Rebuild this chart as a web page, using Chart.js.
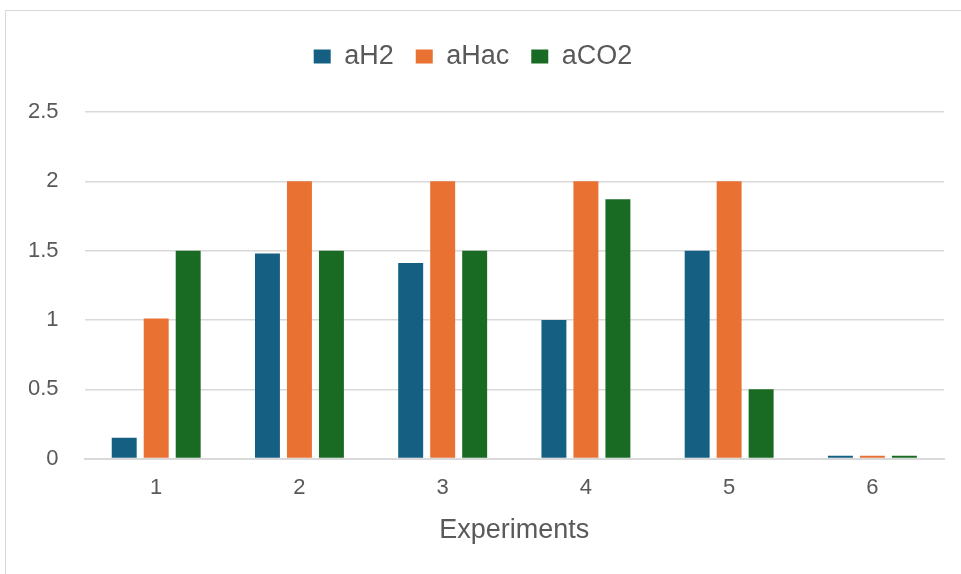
<!DOCTYPE html>
<html>
<head>
<meta charset="utf-8">
<script src="https://cdn.jsdelivr.net/npm/chart.js@4.4.1/dist/chart.umd.min.js"></script>
<style>
  html, body { margin: 0; padding: 0; background: #fff; }
  #frame { position: absolute; left: 5px; top: 10px; width: 1000px; height: 600px; border: 1px solid #d9d9d9; }
  #wrap { position: absolute; left: 0; top: 0; width: 961px; height: 574px; }
</style>
</head>
<body>
<div id="frame"></div>
<div id="wrap"><canvas id="barChart" width="961" height="574"></canvas></div>
<script>
const experiments = ['1', '2', '3', '4', '5', '6'];
const aH2 = [0.15, 1.48, 1.41, 1.0, 1.5, 0.02];
const aHac = [1.01, 2.0, 2.0, 2.0, 2.0, 0.02];
const aCO2 = [1.5, 1.5, 1.5, 1.87, 0.5, 0.02];

const textColor = '#595959';
const fontFamily = "'Liberation Sans', Arial, sans-serif";

// extra space between legend and plot area
const legendGap = {
  id: 'legendGap',
  beforeInit(chart) {
    const origFit = chart.legend.fit;
    chart.legend.fit = function () {
      origFit.bind(chart.legend)();
      this.height += 32;
    };
  }
};

const ctxBar = document.getElementById('barChart').getContext('2d');
const barChart = new Chart(ctxBar, {
  type: 'bar',
  data: {
    labels: experiments,
    datasets: [
      { label: 'aH2', data: aH2, backgroundColor: '#156082' },
      { label: 'aHac', data: aHac, backgroundColor: '#E97132' },
      { label: 'aCO2', data: aCO2, backgroundColor: '#196B24' }
    ]
  },
  plugins: [legendGap],
  options: {
    responsive: false,
    animation: false,
    datasets: {
      bar: { categoryPercentage: 0.67, barPercentage: 0.78 }
    },
    layout: { padding: { top: 21, right: 17, bottom: 30, left: 2 } },
    plugins: {
      legend: {
        position: 'top',
        labels: {
          boxWidth: 17,
          boxHeight: 14,
          padding: 22,
          color: textColor,
          font: { family: fontFamily, size: 27 }
        }
      },
      tooltip: { enabled: false }
    },
    scales: {
      x: {
        grid: { display: false },
        border: { color: '#d9d9d9', width: 2 },
        ticks: { color: textColor, font: { family: fontFamily, size: 22 }, padding: 8 },
        title: {
          display: true,
          text: 'Experiments',
          color: textColor,
          font: { family: fontFamily, size: 27, lineHeight: 1 },
          padding: { top: 8, bottom: 0 }
        }
      },
      y: {
        min: 0,
        max: 2.5,
        grid: { color: '#d9d9d9', lineWidth: 1.5, drawTicks: false },
        border: { display: false },
        ticks: {
          stepSize: 0.5,
          color: textColor,
          font: { family: fontFamily, size: 22 },
          padding: 26,
          callback: value => String(value)
        }
      }
    }
  }
});
</script>
</body>
</html>
